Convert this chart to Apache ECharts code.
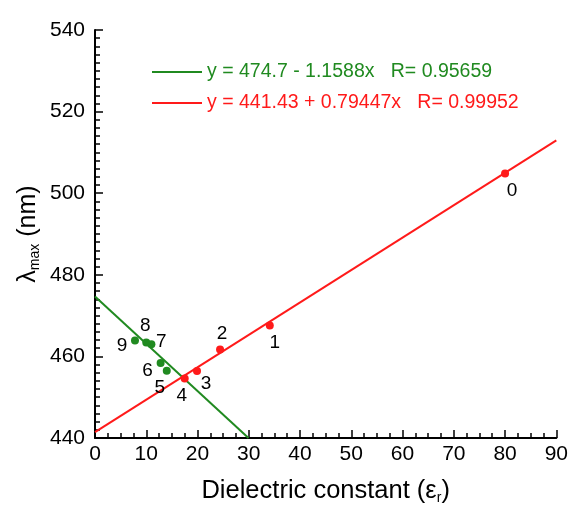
<!DOCTYPE html>
<html><head><meta charset="utf-8">
<script src="https://cdn.jsdelivr.net/npm/echarts@6/dist/echarts.min.js"></script>
<style>html,body{margin:0;padding:0;background:#fff}#c{width:571px;height:510px}</style>
</head><body><div id="c"></div>
<script>
// Data
var redX = [80, 34.1, 24.4, 19.9, 17.5];
var redY = [504.8, 467.6, 461.7, 456.4, 454.6];
var redLabels = ['0', '1', '2', '3', '4'];
var greenX = [14.0, 12.8, 11.0, 10.0, 7.8];
var greenY = [456.5, 458.4, 463.0, 463.4, 463.9];
var greenLabels = ['5', '6', '7', '8', '9'];
var redFit = [441.43, 0.79447];   // intercept, slope
var greenFit = [474.7, -1.1588];
var redFitName = 'y = 441.43 + 0.79447x   R= 0.99952';
var greenFitName = 'y = 474.7 - 1.1588x   R= 0.95659';
var xTicks = [0, 10, 20, 30, 40, 50, 60, 70, 80, 90];
var yTicks = [440, 460, 480, 500, 520, 540];

var RED = '#ff1a1a', GREEN = '#208a20';
var labelOffsets = {
  '0': [7, 17], '1': [5, 17], '2': [2, -16], '3': [9, 13], '4': [-3, 17],
  '5': [-7, 17], '6': [-13, 8], '7': [10, -2], '8': [-1, -17], '9': [-13, 5]
};
var font = 'Liberation Sans, Arial, sans-serif';
function pts(xs, ys, labs) {
  return xs.map(function (x, i) {
    return {
      value: [x, ys[i]], name: labs[i],
      label: { show: true, formatter: labs[i], position: 'inside', offset: labelOffsets[labs[i]],
        color: '#000', fontSize: 19, fontFamily: font, textBorderWidth: 0, textBorderColor: 'transparent' }
    };
  });
}
var xMin = xTicks[0], xMax = xTicks[xTicks.length - 1];
var yMin = yTicks[0], yMax = yTicks[yTicks.length - 1];
var redLine = [[xMin, redFit[0] + redFit[1] * xMin], [xMax, redFit[0] + redFit[1] * xMax]];
var gEnd = (yMin - greenFit[0]) / greenFit[1];
var greenLine = [[xMin, greenFit[0] + greenFit[1] * xMin], [gEnd, yMin]];

var chart = echarts.init(document.getElementById('c'), null, { renderer: 'canvas' });
chart.setOption({
  animation: false,
  backgroundColor: '#fff',
  grid: { left: 95, right: 12, top: 30, bottom: 65, containLabel: false },
  legend: {
    orient: 'vertical', left: 147, top: 57, itemGap: 11,
    itemWidth: 50, itemHeight: 2, icon: 'rect',
    data: [
      { name: greenFitName, textStyle: { color: GREEN } },
      { name: redFitName, textStyle: { color: RED } }
    ],
    textStyle: { fontSize: 19.5, fontFamily: font },
    selectedMode: false
  },
  xAxis: {
    type: 'value', min: xMin, max: xMax, interval: 10,
    axisLine: { lineStyle: { color: '#000', width: 2 } },
    axisTick: { inside: true, length: 8, lineStyle: { color: '#000', width: 1.5 } },
    minorTick: { show: true, splitNumber: 4, length: 5, lineStyle: { color: '#000', width: 1.5 } },
    splitLine: { show: false },
    axisLabel: { color: '#000', fontSize: 21, fontFamily: font, margin: 6 },
    name: 'Dielectric constant (ε{s|r})',
    nameLocation: 'middle', nameGap: 39, nameMoveOverlap: false,
    nameTextStyle: { color: '#000', fontSize: 25.5, fontFamily: font,
      rich: { s: { fontSize: 14, padding: [14, 0, 0, 0], color: '#000', fontFamily: font } } }
  },
  yAxis: {
    type: 'value', min: yMin, max: yMax, interval: 20,
    axisLine: { lineStyle: { color: '#000', width: 2 } },
    axisTick: { inside: true, length: 8, lineStyle: { color: '#000', width: 1.5 } },
    minorTick: { show: true, splitNumber: 10, length: 5, lineStyle: { color: '#000', width: 1.5 } },
    splitLine: { show: false },
    axisLabel: { color: '#000', fontSize: 21, fontFamily: font, margin: 10 },
    name: 'λ{s|max} (nm)',
    nameLocation: 'middle', nameGap: 53, nameRotate: 90, nameMoveOverlap: false,
    nameTextStyle: { color: '#000', fontSize: 25, fontFamily: font,
      rich: { s: { fontSize: 14, padding: [14, 0, 0, 0], color: '#000', fontFamily: font } } }
  },
  series: [
    { name: greenFitName, type: 'line', data: greenLine, showSymbol: false, symbol: 'none',
      lineStyle: { color: GREEN, width: 2 }, itemStyle: { color: GREEN }, z: 2 },
    { name: redFitName, type: 'line', data: redLine, showSymbol: false, symbol: 'none',
      lineStyle: { color: RED, width: 2 }, itemStyle: { color: RED }, z: 2 },
    { name: 'red pts', type: 'scatter', data: pts(redX, redY, redLabels), symbolSize: 8,
      itemStyle: { color: RED, opacity: 1 }, z: 3 },
    { name: 'green pts', type: 'scatter', data: pts(greenX, greenY, greenLabels), symbolSize: 8,
      itemStyle: { color: GREEN, opacity: 1 }, z: 3 }
  ]
});
</script></body></html>
